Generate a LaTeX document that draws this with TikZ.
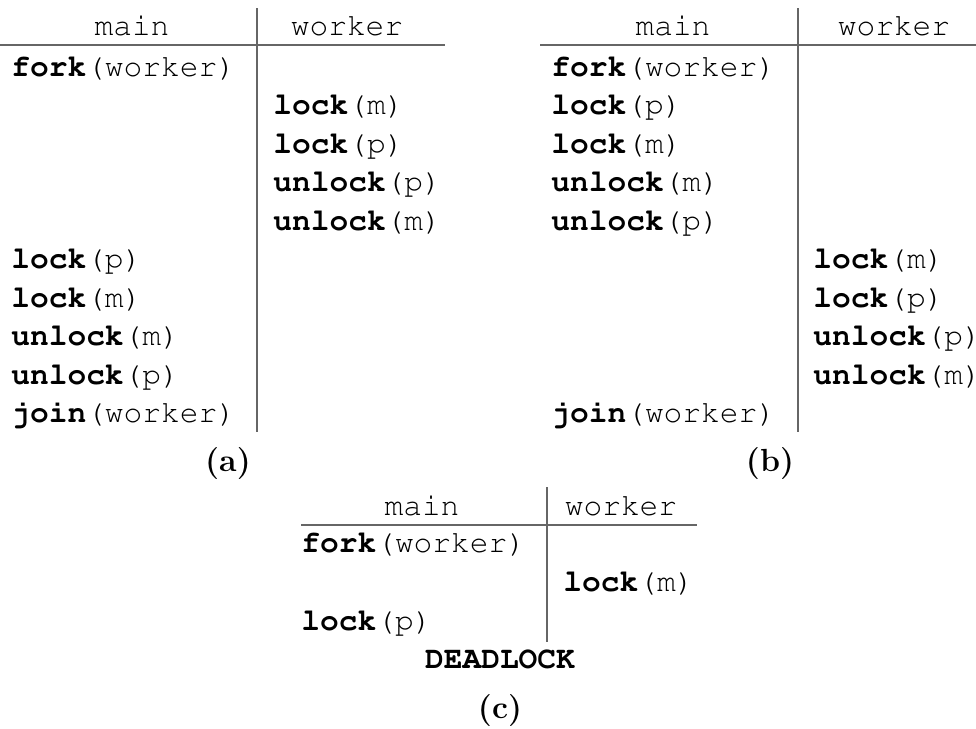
\documentclass[tikz,border=0pt]{standalone}
\usepackage[T1,TU]{fontenc}
\usepackage{tikz}
\tikzstyle{cell_normal} = [anchor=base west, inner sep=0pt, font=\fontencoding{T1}\fontfamily{pcr}\fontsize{15.6}{18}\selectfont]
\tikzstyle{head_normal} = [anchor=base, inner sep=0pt, font=\fontencoding{T1}\fontfamily{pcr}\fontsize{15.6}{18}\selectfont]
\tikzstyle{caption_normal} = [anchor=base, inner sep=0pt, font=\bfseries\fontsize{16}{19}\selectfont]
\tikzstyle{rule_normal} = [draw=black!60, line width=0.6pt]
\newcommand{\call}[2]{\textbf{#1}(#2)}

\begin{document}
\begin{tikzpicture}[x=0.5pt, y=-0.5pt]
\useasboundingbox (0,0) rectangle (976,729);
% (a)
\node (A0) at (132,35) [head_normal] {main};
\node (A1) at (347,35) [head_normal] {worker};
\node (A2) at (11,76) [cell_normal] {\call{fork}{worker}};
\node (A3) at (273,114.5) [cell_normal] {\call{lock}{m}};
\node (A4) at (273,153) [cell_normal] {\call{lock}{p}};
\node (A5) at (273,191.5) [cell_normal] {\call{unlock}{p}};
\node (A6) at (273,230) [cell_normal] {\call{unlock}{m}};
\node (A7) at (11,268.5) [cell_normal] {\call{lock}{p}};
\node (A8) at (11,307) [cell_normal] {\call{lock}{m}};
\node (A9) at (11,345.5) [cell_normal] {\call{unlock}{m}};
\node (A10) at (11,384) [cell_normal] {\call{unlock}{p}};
\node (A11) at (11,422.5) [cell_normal] {\call{join}{worker}};
\draw[rule_normal] (257,8)--(257,432);
\draw[rule_normal] (0,45)--(445,45);
\node (CA) at (228,471) [caption_normal] {(a)};
% (b)
\node (B0) at (673,35) [head_normal] {main};
\node (B1) at (894,35) [head_normal] {worker};
\node (B2) at (551,76) [cell_normal] {\call{fork}{worker}};
\node (B3) at (551,114.5) [cell_normal] {\call{lock}{p}};
\node (B4) at (551,153) [cell_normal] {\call{lock}{m}};
\node (B5) at (551,191.5) [cell_normal] {\call{unlock}{m}};
\node (B6) at (551,230) [cell_normal] {\call{unlock}{p}};
\node (B7) at (813,268.5) [cell_normal] {\call{lock}{m}};
\node (B8) at (813,307) [cell_normal] {\call{lock}{p}};
\node (B9) at (813,345.5) [cell_normal] {\call{unlock}{p}};
\node (B10) at (813,384) [cell_normal] {\call{unlock}{m}};
\node (B11) at (551,422.5) [cell_normal] {\call{join}{worker}};
\draw[rule_normal] (798,8)--(798,432);
\draw[rule_normal] (540,45)--(976,45);
\node (CB) at (770,471) [caption_normal] {(b)};
% (c)
\node (C0) at (422,515) [head_normal] {main};
\node (C1) at (621,515) [head_normal] {worker};
\node (C2) at (301,552) [cell_normal] {\call{fork}{worker}};
\node (C3) at (563,591) [cell_normal] {\call{lock}{m}};
\node (C4) at (301,630) [cell_normal] {\call{lock}{p}};
\node (C5) at (500,668) [head_normal] {\textbf{DEADLOCK}};
\draw[rule_normal] (547,487)--(547,642);
\draw[rule_normal] (301,525)--(697,525);
\node (CC) at (500,718) [caption_normal] {(c)};
\end{tikzpicture}
\end{document}
